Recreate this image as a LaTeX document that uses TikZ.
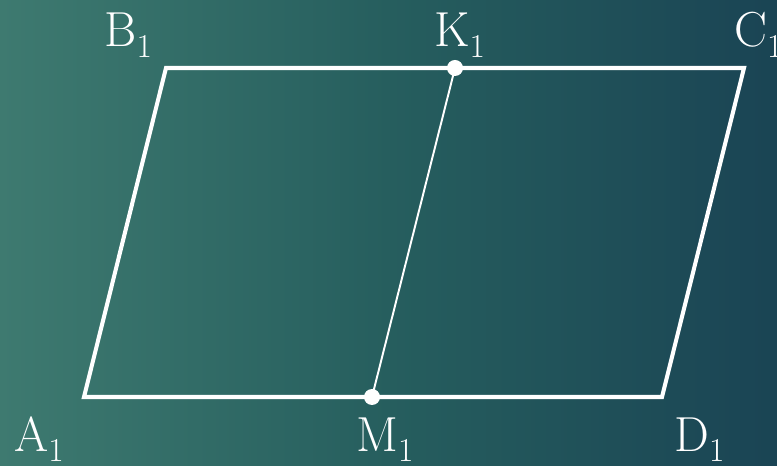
\documentclass[tikz,border=0pt]{standalone}
\usepackage{tikz}
\usetikzlibrary{positioning,calc}
\definecolor{bgleft}{RGB}{62,122,112}
\definecolor{bgmid}{RGB}{38,94,94}
\definecolor{bgright}{RGB}{26,68,84}
\newcommand{\vlab}[1]{#1\raisebox{-0.5ex}{\fontsize{19}{21}\selectfont 1}}
\tikzset{
  edge/.style={draw=white, line width=2.3pt, line join=miter},
  thinedge/.style={draw=white, line width=1.1pt},
  dot/.style={circle, fill=white, inner sep=0pt, minimum size=3.2mm},
  vertex/.style={text=white, font=\fontsize{28}{32}\selectfont, inner sep=0pt},
}
\begin{document}
\begin{tikzpicture}

% ---------------- background ----------------
\shade[left color=bgleft, right color=bgright, middle color=bgmid]
  (0,0) rectangle (15.54,9.3);
\useasboundingbox (0,0) rectangle (15.54,9.3);

% ---------------- parallelogram ----------------
\coordinate (A1) at (1.68,1.36);
\coordinate (B1) at (3.32,7.94);
\coordinate (C1) at (14.88,7.94);
\coordinate (D1) at (13.24,1.36);
\coordinate (K1) at (9.10,7.94);
\coordinate (M1) at (7.44,1.36);

\draw[edge] (A1) -- (B1) -- (C1) -- (D1) -- cycle;
\draw[thinedge] (K1) -- (M1);

\node[dot] (k1dot) at (K1) {};
\node[dot] (m1dot) at (M1) {};

% ---------------- labels ----------------
\node[vertex, anchor=base west] (la1) at (0.28,0.28) {\vlab{A}};
\node[vertex, anchor=base west] (lb1) at (2.08,8.36) {\vlab{B}};
\node[vertex, anchor=base west] (lc1) at (14.68,8.36) {\vlab{C}};
\node[vertex, anchor=base west] (ld1) at (13.48,0.28) {\vlab{D}};
\node[vertex, anchor=base west] (lk1) at (8.68,8.36) {\vlab{K}};
\node[vertex, anchor=base west] (lm1) at (7.12,0.28) {\vlab{M}};
\end{tikzpicture}
\end{document}
